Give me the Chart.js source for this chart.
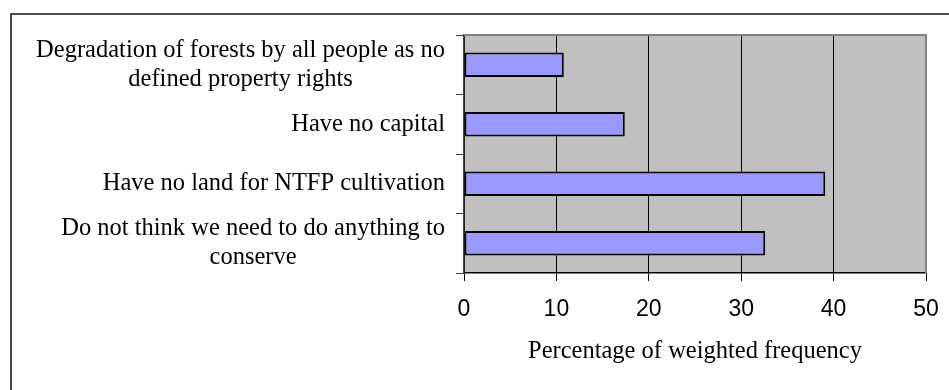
<!DOCTYPE html>
<html>
<head>
<meta charset="utf-8">
<title>Constraints on NTFP conservation</title>
<script src="https://cdn.jsdelivr.net/npm/chart.js@4/dist/chart.umd.min.js"></script>
<style>
  html, body { margin: 0; padding: 0; background: #ffffff; }
  #wrap { width: 949px; height: 390px; }
</style>
</head>
<body>
<div id="wrap"><canvas id="chart" width="949" height="390"></canvas></div>
<script>
// Reasons given, top to bottom (multi-line labels as arrays)
const categories = [
  ['Degradation of forests by all people as no', 'defined property rights'],
  'Have no capital',
  'Have no land for NTFP cultivation',
  ['Do not think we need to do anything to', 'conserve']
];
// Percentage of weighted frequency for each reason
const weightedFrequency = [10.8, 17.4, 39.1, 32.6];
// Value axis
const axisMin = 0;
const axisMax = 50;
const axisStep = 10;
const axisTitle = 'Percentage of weighted frequency';

const SERIF = '"Liberation Serif", "Times New Roman", serif';
const SANS = '"Liberation Sans", Arial, sans-serif';

// Frame, grey plot background and plot border
const framePlugin = {
  id: 'frame',
  beforeDraw(chart) {
    const { ctx, chartArea: a } = chart;
    ctx.save();
    ctx.fillStyle = '#ffffff';
    ctx.fillRect(0, 0, chart.width, chart.height);
    ctx.fillStyle = '#c0c0c0';
    ctx.fillRect(a.left, a.top, a.right - a.left, a.bottom - a.top);
    ctx.strokeStyle = '#111111';
    ctx.lineWidth = 1.5;
    ctx.strokeRect(11, 14, chart.width + 20, chart.height + 20);
    ctx.restore();
  },
  afterDatasetsDraw(chart) {
    const { ctx, chartArea: a } = chart;
    ctx.save();
    ctx.strokeStyle = '#808080';
    ctx.lineWidth = 2;
    ctx.beginPath();
    ctx.moveTo(a.left, a.top);
    ctx.lineTo(a.right, a.top);
    ctx.lineTo(a.right, a.bottom);
    ctx.stroke();
    ctx.restore();
  }
};

// Category labels: right-aligned block, lines of a label centred on each other
const categoryLabelPlugin = {
  id: 'categoryLabels',
  afterDraw(chart) {
    const scale = chart.scales.y;
    const ctx = chart.ctx;
    const lineHeight = 29;
    const rightEdge = scale.right - 19;
    ctx.save();
    ctx.font = '24.5px ' + SERIF;
    ctx.fillStyle = '#000000';
    ctx.textAlign = 'center';
    ctx.textBaseline = 'middle';
    chart.data.labels.forEach((label, i) => {
      const lines = Array.isArray(label) ? label : [label];
      const widest = Math.max(...lines.map(l => ctx.measureText(l).width));
      const cx = rightEdge - widest / 2;
      const cy = scale.getPixelForValue(i);
      lines.forEach((line, j) => {
        ctx.fillText(line, cx, cy + (j - (lines.length - 1) / 2) * lineHeight);
      });
    });
    ctx.restore();
  }
};

new Chart(document.getElementById('chart'), {
  type: 'bar',
  data: {
    labels: categories,
    datasets: [{
      data: weightedFrequency,
      backgroundColor: '#9999ff',
      borderColor: '#000000',
      borderWidth: 2,
      borderSkipped: false,
      categoryPercentage: 1,
      barPercentage: 0.41
    }]
  },
  options: {
    indexAxis: 'y',
    responsive: false,
    animation: false,
    devicePixelRatio: 1,
    layout: { padding: { left: 0, top: 35, right: 23, bottom: 0 } },
    plugins: {
      legend: { display: false },
      tooltip: { enabled: false },
      title: { display: false }
    },
    scales: {
      x: {
        min: axisMin,
        max: axisMax,
        afterFit(scale) {
          scale.height = 117;
          scale.paddingLeft = 0;
          scale.paddingRight = 0;
        },
        ticks: {
          stepSize: axisStep,
          color: '#000000',
          font: { family: SANS, size: 23 },
          padding: 15,
          maxRotation: 0
        },
        grid: {
          color: ctx => (ctx.tick && ctx.tick.value === axisMax) ? '#808080' : '#000000',
          lineWidth: 1,
          tickColor: '#000000',
          tickLength: 8,
          drawTicks: true
        },
        border: { display: true, color: '#000000', width: 1.5 },
        title: {
          display: true,
          text: axisTitle,
          color: '#000000',
          font: { family: SERIF, size: 24.5 },
          padding: { top: 0, bottom: 24 }
        }
      },
      y: {
        afterFit(scale) { scale.width = 464; },
        ticks: { display: false },
        grid: {
          offset: true,
          drawOnChartArea: false,
          drawTicks: true,
          tickLength: 8,
          color: '#404040',
          tickColor: '#404040'
        },
        border: { display: true, color: '#404040', width: 1.5 }
      }
    }
  },
  plugins: [framePlugin, categoryLabelPlugin]
});
</script>
</body>
</html>
